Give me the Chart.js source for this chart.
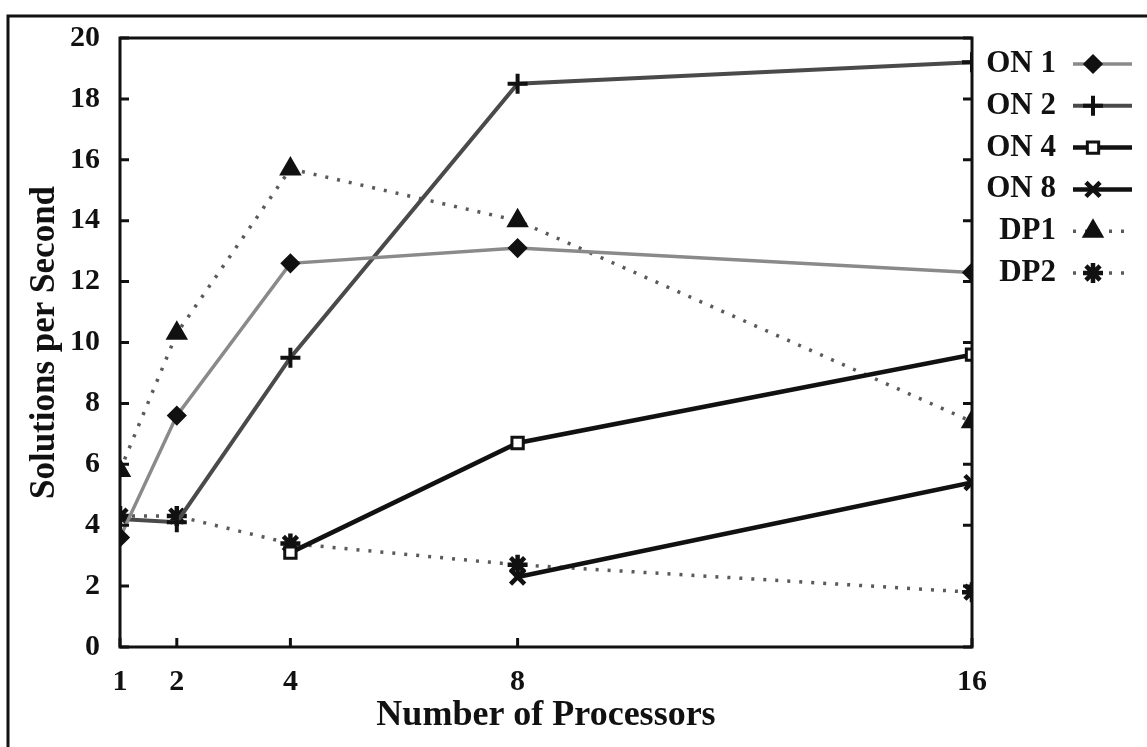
<!DOCTYPE html>
<html>
<head>
<meta charset="utf-8">
<script src="https://cdn.jsdelivr.net/npm/chart.js@4.4.0/dist/chart.umd.min.js"></script>
<style>
  body { margin: 0; background: #fff; }
  #wrap { width: 1147px; height: 747px; position: relative; }
</style>
</head>
<body>
<div id="wrap"><canvas id="chart"></canvas></div>
<script>
// Data
const procs = [1, 2, 4, 8, 16];
const yTicks = [0, 2, 4, 6, 8, 10, 12, 14, 16, 18, 20];
const on1 = [3.6, 7.6, 12.6, 13.1, 12.3];
const on2 = [4.2, 4.1, 9.5, 18.5, 19.2];
const on4 = [null, null, 3.1, 6.7, 9.6];
const on8 = [null, null, null, 2.3, 5.4];
const dp1 = [5.8, 10.3, 15.7, 14.0, 7.4];
const dp2 = [4.3, 4.3, 3.4, 2.7, 1.8];
const names = ['ON 1', 'ON 2', 'ON 4', 'ON 8', 'DP1', 'DP2'];

const serif = '"Liberation Serif", "Times New Roman", serif';

function pts(arr) {
    return procs.map((p, i) => ({ x: p, y: arr[i] })).filter(d => d.y !== null);
}

function ds(label, arr, color, width, dash, style, radius, fill, pw) {
    return {
        label: label,
        data: pts(arr),
        borderColor: color,
        borderWidth: width,
        borderDash: dash,
        pointStyle: style,
        pointRadius: radius,
        pointBorderColor: '#111',
        pointBackgroundColor: fill,
        pointBorderWidth: pw,
        tension: 0,
    };
}

const datasets = [
    ds(names[0], on1, '#8a8a8a', 3.5, [], 'rectRot', 8, '#111', 3),
    ds(names[1], on2, '#4a4a4a', 4, [], 'cross', 10, '#111', 4),
    ds(names[2], on4, '#111', 4.5, [], 'rect', 8, '#fff', 3),
    ds(names[3], on8, '#111', 4.5, [], 'crossRot', 10, '#111', 4.5),
    ds(names[4], dp1, '#5a5a5a', 3.5, [3, 9], 'triangle', 10, '#111', 3),
    ds(names[5], dp2, '#5a5a5a', 3.5, [3, 9], 'star', 10, '#111', 4.5),
];

// Inward ticks, frame, titles and the legend on the right
const decor = {
    id: 'decor',
    afterDraw(chart) {
        const ctx = chart.ctx;
        const a = chart.chartArea;
        const xs = chart.scales.x, ys = chart.scales.y;
        ctx.save();
        ctx.strokeStyle = '#111';
        ctx.lineWidth = 3;
        ctx.strokeRect(a.left, a.top, a.right - a.left, a.bottom - a.top);
        yTicks.forEach(v => {
            const y = ys.getPixelForValue(v);
            ctx.beginPath();
            ctx.moveTo(a.left, y); ctx.lineTo(a.left + 9, y);
            ctx.moveTo(a.right, y); ctx.lineTo(a.right - 9, y);
            ctx.stroke();
        });
        procs.forEach(v => {
            const x = xs.getPixelForValue(v);
            ctx.beginPath();
            ctx.moveTo(x, a.bottom); ctx.lineTo(x, a.bottom - 9);
            ctx.stroke();
        });

        // outer frame
        ctx.beginPath();
        ctx.moveTo(8, 747); ctx.lineTo(8, 16); ctx.lineTo(1147, 16);
        ctx.stroke();

        // titles
        ctx.fillStyle = '#111';
        ctx.textAlign = 'center';
        ctx.textBaseline = 'middle';
        ctx.font = 'bold 36px ' + serif;
        ctx.fillText('Number of Processors', (a.left + a.right) / 2, 716);
        ctx.save();
        ctx.translate(45, (a.top + a.bottom) / 2);
        ctx.rotate(-Math.PI / 2);
        ctx.font = 'bold 35px ' + serif;
        ctx.fillText('Solutions per Second', 0, 0);
        ctx.restore();

        // legend
        ctx.font = 'bold 31px ' + serif;
        ctx.textAlign = 'right';
        chart.data.datasets.forEach((d, i) => {
            const y = 64 + i * 41.8;
            ctx.fillStyle = '#111';
            ctx.fillText(d.label, 1056, y);
            ctx.save();
            ctx.strokeStyle = d.borderColor;
            ctx.lineWidth = d.borderWidth;
            ctx.setLineDash(d.borderDash);
            ctx.beginPath();
            ctx.moveTo(1073, y); ctx.lineTo(1132, y);
            ctx.stroke();
            ctx.restore();
            ctx.save();
            ctx.strokeStyle = d.pointBorderColor;
            ctx.fillStyle = d.pointBackgroundColor;
            ctx.lineWidth = d.pointBorderWidth;
            Chart.helpers.drawPoint(ctx, {
                pointStyle: d.pointStyle,
                radius: d.pointRadius,
                rotation: 0,
                borderWidth: d.pointBorderWidth,
            }, 1093, y);
            ctx.restore();
        });
        ctx.restore();
    }
};

new Chart(document.getElementById('chart'), {
    type: 'line',
    data: { datasets: datasets },
    options: {
        responsive: true,
        maintainAspectRatio: false,
        animation: false,
        layout: { padding: { left: 0, right: 175, top: 38, bottom: 0 } },
        plugins: { legend: { display: false }, tooltip: { enabled: false } },
        scales: {
            x: {
                type: 'linear',
                min: 1, max: 16,
                afterBuildTicks: s => { s.ticks = procs.map(v => ({ value: v })); },
                afterFit: s => { s.height = 100; },
                grid: { display: false, drawTicks: false },
                border: { display: false },
                ticks: { color: '#111', padding: 17, maxRotation: 0, font: { family: serif, size: 30, weight: 'bold' } },
            },
            y: {
                min: 0, max: 20,
                afterBuildTicks: s => { s.ticks = yTicks.map(v => ({ value: v })); },
                afterFit: s => { s.width = 120; },
                grid: { display: false, drawTicks: false },
                border: { display: false },
                ticks: { color: '#111', padding: 20, font: { family: serif, size: 30, weight: 'bold' } },
            }
        }
    },
    plugins: [decor]
});
</script>
</body>
</html>
